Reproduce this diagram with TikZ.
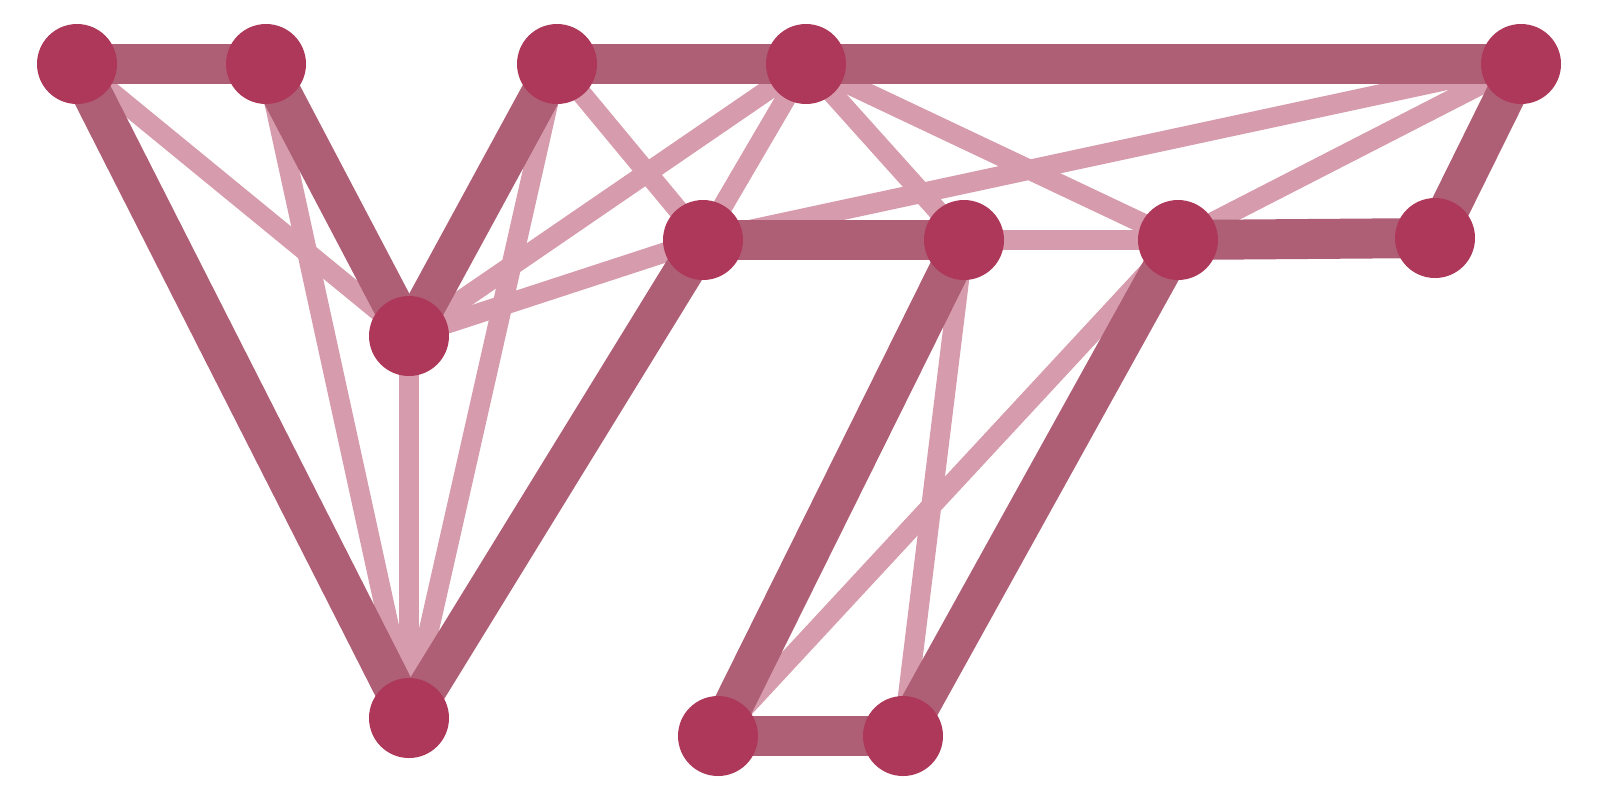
\documentclass[tikz,border=0pt]{standalone}
\definecolor{nodecol}{RGB}{173,56,90}
\definecolor{thickcol}{RGB}{174,95,118}
\definecolor{thincol}{RGB}{214,155,172}
\pgfdeclarelayer{edges}
\pgfsetlayers{edges,main}
\begin{document}
\begin{tikzpicture}[x=0.5pt,y=-0.5pt,
  vertex/.style={circle,fill=nodecol,draw=none,minimum size=40pt,inner sep=0pt},
  heavyedge/.style={draw=thickcol,line width=20pt},
  lightedge/.style={draw=thincol,line width=10pt}]
\useasboundingbox (0,0) rectangle (1600,800);
\node[vertex] (A) at (77,64) {};
\node[vertex] (B) at (266,64) {};
\node[vertex] (C) at (557,64) {};
\node[vertex] (D) at (806,64) {};
\node[vertex] (E) at (1521,64) {};
\node[vertex] (F) at (409,336) {};
\node[vertex] (G) at (703,240) {};
\node[vertex] (H) at (964,240) {};
\node[vertex] (I) at (1178,240) {};
\node[vertex] (J) at (1435,238) {};
\node[vertex] (K) at (409,718) {};
\node[vertex] (L) at (718,736) {};
\node[vertex] (M) at (903,736) {};
\begin{pgfonlayer}{edges}
% light edges
\foreach \u/\v in {A/F,B/K,F/K,C/K,C/G,F/D,F/G,D/G,D/H,D/I,G/E,I/E,H/I,H/M,I/L}
  \draw[lightedge] (\u.center) -- (\v.center);
% heavy edges
\foreach \u/\v in {A/B,A/K,B/F,F/C,C/D,D/E,K/G,G/H,H/L,L/M,M/I,I/J,J/E}
  \draw[heavyedge] (\u.center) -- (\v.center);
\end{pgfonlayer}
\end{tikzpicture}
\end{document}
